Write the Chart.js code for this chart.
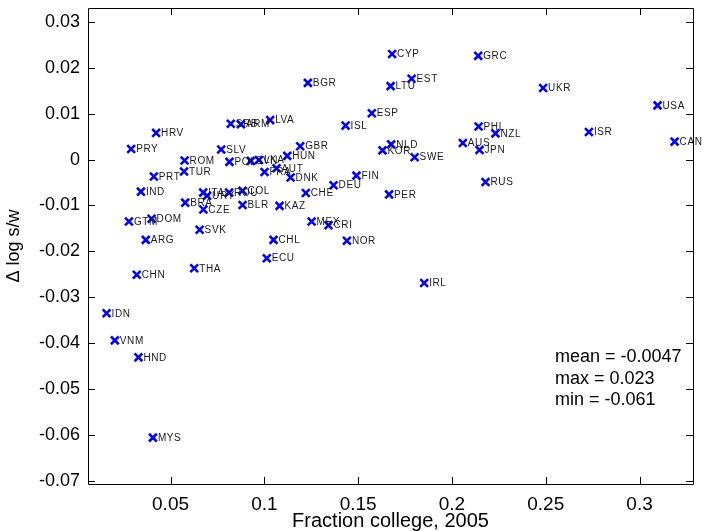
<!DOCTYPE html>
<html>
<head>
<meta charset="utf-8">
<script src="https://cdn.jsdelivr.net/npm/chart.js@4/dist/chart.umd.min.js"></script>
<style>
  html, body { margin: 0; padding: 0; background: #fff; }
  #wrap { width: 704px; height: 531px; position: relative; }
</style>
</head>
<body>
<div id="wrap"><canvas id="c" width="704" height="531"></canvas></div>
<script>
const countries = ["CYP","GRC","EST","LTU","UKR","USA","ESP","PHL","NZL","ISR","CAN","AUS","JPN","NLD","KOR","SWE",
  "BGR","LVA","SRB","ARM","HRV","ISL","GBR","PRY","SLV","HUN","ROM","POL","SVN","LKA","AUT","FRA","TUR","PRT","DNK","FIN",
  "IND","ITA","URY","ROU","COL","CHE","DEU","PER","BRA","CZE","BLR","KAZ","GTM","DOM","MEX","CRI","SVK","ARG","CHL","NOR",
  "ECU","THA","CHN","RUS","IRL","IDN","VNM","HND","MYS"];
const fractionCollege = [0.1681,0.2140,0.1785,0.1673,0.2486,0.3096,0.1573,0.2142,0.2232,0.2730,0.3187,0.2058,0.2147,0.1676,0.1630,0.1801,
  0.1232,0.1031,0.0821,0.0875,0.0423,0.1433,0.1191,0.0290,0.0770,0.1122,0.0575,0.0814,0.0928,0.0971,0.1065,0.1001,0.0572,0.0411,0.1140,0.1491,
  0.0342,0.0674,0.0695,0.0812,0.0884,0.1221,0.1369,0.1665,0.0578,0.0675,0.0884,0.1081,0.0278,0.0399,0.1252,0.1342,0.0655,0.0368,0.1049,0.1440,
  0.1013,0.0626,0.0320,0.2179,0.1852,0.0159,0.0203,0.0329,0.0406];
const dLogSW = [0.0230,0.0226,0.0176,0.0160,0.0156,0.0118,0.0101,0.0072,0.0057,0.0060,0.0039,0.0036,0.0021,0.0033,0.0020,0.0005,
  0.0167,0.0086,0.0078,0.0077,0.0058,0.0074,0.0029,0.0023,0.0022,0.0008,-0.0002,-0.0005,-0.0003,-0.0001,-0.0019,-0.0027,-0.0026,-0.0037,-0.0039,-0.0035,
  -0.0070,-0.0072,-0.0079,-0.0072,-0.0068,-0.0073,-0.0056,-0.0076,-0.0094,-0.0109,-0.0099,-0.0101,-0.0135,-0.0129,-0.0135,-0.0143,-0.0153,-0.0175,-0.0175,-0.0177,
  -0.0215,-0.0237,-0.0251,-0.0049,-0.0269,-0.0335,-0.0394,-0.0431,-0.0606];
const xTickValues = [0.05, 0.1, 0.15, 0.2, 0.25, 0.3];
const yTickValues = [0.03, 0.02, 0.01, 0, -0.01, -0.02, -0.03, -0.04, -0.05, -0.06, -0.07];
const statsLines = ["mean = -0.0047", "max = 0.023", "min = -0.061"];
const xTitle = "Fraction college, 2005";
const yTitle = "\u0394 log s/w";

const FONT = "'Liberation Sans', Arial, sans-serif";

const points = fractionCollege.map((x, i) => ({x: x, y: dLogSW[i]}));

const framePlugin = {
  id: 'frame',
  afterDraw(chart) {
    const {ctx, chartArea: a, scales: {x, y}} = chart;
    ctx.save();
    ctx.strokeStyle = '#000';
    ctx.lineWidth = 1;
    ctx.beginPath();
    ctx.rect(Math.round(a.left) + 0.5, Math.round(a.top) + 0.5, Math.round(a.right - a.left), Math.round(a.bottom - a.top));
    ctx.stroke();
    const tl = 7;
    ctx.beginPath();
    x.ticks.forEach(t => {
      const px = Math.round(x.getPixelForValue(t.value)) + 0.5;
      ctx.moveTo(px, a.bottom); ctx.lineTo(px, a.bottom - tl);
      ctx.moveTo(px, a.top); ctx.lineTo(px, a.top + tl);
    });
    y.ticks.forEach(t => {
      const py = Math.round(y.getPixelForValue(t.value)) + 0.5;
      ctx.moveTo(a.left, py); ctx.lineTo(a.left + tl, py);
      ctx.moveTo(a.right, py); ctx.lineTo(a.right - tl, py);
    });
    ctx.stroke();
    ctx.restore();
  }
};

const labelPlugin = {
  id: 'pointLabels',
  afterDatasetsDraw(chart) {
    const {ctx} = chart;
    const meta = chart.getDatasetMeta(0);
    ctx.save();
    ctx.font = '10px ' + FONT;
    if ('letterSpacing' in ctx) ctx.letterSpacing = '0.6px';
    ctx.fillStyle = '#1a1a1a';
    ctx.textAlign = 'left';
    ctx.textBaseline = 'middle';
    meta.data.forEach((el, i) => {
      ctx.fillText(countries[i], el.x + 5, el.y + 0.5);
    });
    ctx.restore();
  }
};

const statsPlugin = {
  id: 'stats',
  afterDraw(chart) {
    const {ctx} = chart;
    ctx.save();
    ctx.font = '18px ' + FONT;
    ctx.fillStyle = '#000';
    ctx.textAlign = 'left';
    ctx.textBaseline = 'alphabetic';
    statsLines.forEach((s, i) => ctx.fillText(s, 555, 362 + i * 21.5));
    ctx.restore();
  }
};

new Chart(document.getElementById('c'), {
  type: 'scatter',
  data: {
    datasets: [{
      data: points,
      pointStyle: 'crossRot',
      pointRadius: 5.5,
      pointHoverRadius: 5.5,
      borderColor: '#0000ff',
      backgroundColor: '#0000ff',
      pointBorderWidth: 2.6,
      borderWidth: 2.6
    }]
  },
  options: {
    responsive: false,
    animation: false,
    devicePixelRatio: 1,
    layout: { padding: { top: 6, right: 11, left: 0, bottom: 0 } },
    plugins: { legend: { display: false }, tooltip: { enabled: false } },
    scales: {
      x: {
        type: 'linear',
        min: 0.006,
        max: 0.3285,
        afterBuildTicks: s => { s.ticks = xTickValues.map(v => ({value: v})); },
        afterFit: s => { s.height = 47; s.paddingLeft = 0; s.paddingRight = 0; },
        grid: { display: true, drawOnChartArea: false, drawTicks: false },
        border: { display: false },
        ticks: {
          padding: 9,
          color: '#000',
          font: { family: FONT, size: 19 },
          maxRotation: 0,
          autoSkip: false,
          callback: v => String(v)
        },
        title: { display: true, text: xTitle, color: '#000', font: { family: FONT, size: 20 }, padding: { top: 0, bottom: -2 } }
      },
      y: {
        type: 'linear',
        min: -0.0707,
        max: 0.033,
        afterBuildTicks: s => { s.ticks = yTickValues.map(v => ({value: v})); },
        afterFit: s => { s.width = 88; s.paddingTop = 0; s.paddingBottom = 0; },
        grid: { display: true, drawOnChartArea: false, drawTicks: false },
        border: { display: false },
        ticks: {
          padding: 8,
          color: '#000',
          font: { family: FONT, size: 18 },
          autoSkip: false,
          callback: v => String(v)
        },
        title: { display: true, text: yTitle, color: '#000', font: { family: FONT, size: 18 }, padding: { top: 3, bottom: 0 } }
      }
    }
  },
  plugins: [framePlugin, labelPlugin, statsPlugin]
});
</script>
</body>
</html>
